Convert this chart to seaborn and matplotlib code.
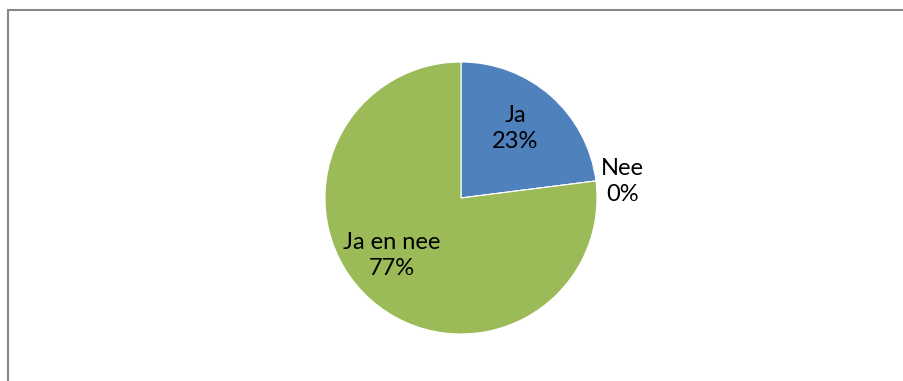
import matplotlib
matplotlib.use("Agg")
import matplotlib.pyplot as plt
from matplotlib.patches import Rectangle
import seaborn as sns

# Survey answers and their shares (percent)
categories = ["Ja", "Nee", "Ja en nee"]
shares = [23, 0, 77]
colors = ["#4F81BD", "#C0504D", "#9BBB59"]

sns.set_theme(style="white")
plt.rcParams["font.family"] = ["Lato", "DejaVu Sans"]

W, H = 904, 381
fig = plt.figure(figsize=(W / 100, H / 100), dpi=100)

# Pie area: centre (461, 198) px, radius 136 px
cx, cy, r = 461, 198, 136
ax = fig.add_axes([(cx - r) / W, (H - cy - r) / H, 2 * r / W, 2 * r / H])
ax.pie(shares, colors=colors, startangle=90, counterclock=False,
       wedgeprops=dict(edgecolor="white", linewidth=0.8))
ax.set_xlim(-1, 1)
ax.set_ylim(-1, 1)
ax.set_aspect("equal")
ax.axis("off")

# Data labels (category + percentage)
label_pos = [(0.40, 0.51), (1.19, 0.12), (-0.51, -0.42)]
for name, val, (x, y) in zip(categories, shares, label_pos):
    ax.text(x, y, f"{name}\n{val}%", ha="center", va="center",
            fontsize=17, color="black", linespacing=1.3)

# Chart-area border
fig.add_artist(Rectangle((7.5 / W, -0.05), 1.1, 1 - 9.5 / H + 0.05,
                         transform=fig.transFigure, fill=False,
                         edgecolor="#878787", linewidth=1.5, clip_on=False))

fig.savefig("out.png", dpi=100)
